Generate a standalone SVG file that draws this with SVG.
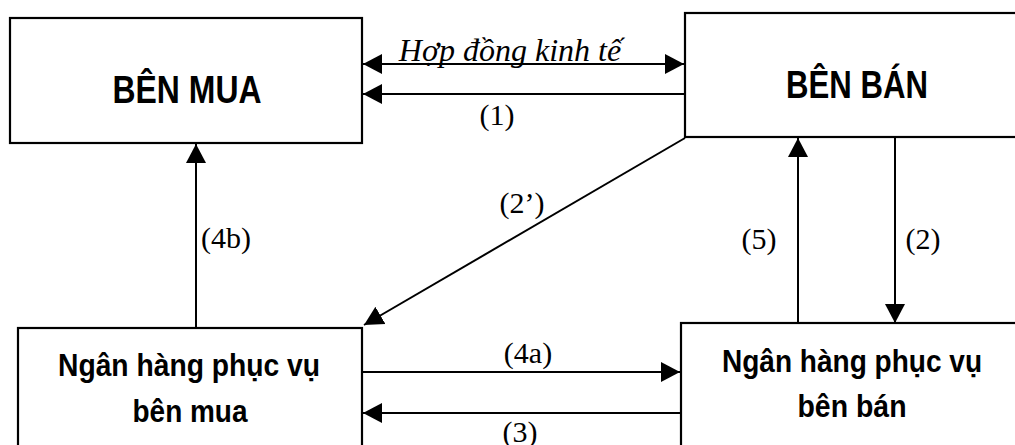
<svg xmlns="http://www.w3.org/2000/svg" width="1015" height="445" viewBox="0 0 1015 445">
  <style>
    .box { fill: #fff; stroke: #000; stroke-width: 2.2; }
    .big { font-family: "Liberation Sans", Arial, sans-serif; font-weight: bold; font-size: 39px; text-anchor: middle; fill: #000; }
    .bank { font-family: "Liberation Sans", Arial, sans-serif; font-weight: bold; font-size: 32px; text-anchor: middle; fill: #000; }
    .lbl { font-family: "Liberation Serif", "Times New Roman", serif; font-size: 30px; text-anchor: middle; fill: #000; }
    .ital { font-family: "Liberation Serif", "Times New Roman", serif; font-size: 32px; font-style: italic; text-anchor: middle; fill: #000; }
    .conn line { stroke: #000; stroke-width: 2; fill: none; }
  </style>
  <defs>
    <marker id="arr" markerUnits="userSpaceOnUse" markerWidth="20" markerHeight="22" viewBox="0 0 20 22" refX="19" refY="11" orient="auto-start-reverse">
      <path d="M0,1 L19,11 L0,21 Z" fill="#000"/>
    </marker>
  </defs>
  <rect width="1015" height="445" fill="#fff"/>

  <g id="ben-mua">
    <rect class="box" x="10" y="18" width="352" height="125"/>
    <text class="big" x="187" y="103" textLength="149" lengthAdjust="spacingAndGlyphs">BÊN MUA</text>
  </g>
  <g id="ben-ban">
    <rect class="box" x="685" y="13" width="340" height="124"/>
    <text class="big" x="857" y="98" textLength="142" lengthAdjust="spacingAndGlyphs">BÊN BÁN</text>
  </g>
  <g id="ngan-hang-mua">
    <rect class="box" x="18" y="328" width="344" height="130"/>
    <text class="bank" x="189" y="376" textLength="262" lengthAdjust="spacingAndGlyphs">Ngân hàng phục vụ</text>
    <text class="bank" x="190" y="422" textLength="115" lengthAdjust="spacingAndGlyphs">bên mua</text>
  </g>
  <g id="ngan-hang-ban">
    <rect class="box" x="681" y="323" width="350" height="135"/>
    <text class="bank" x="852" y="372" textLength="260" lengthAdjust="spacingAndGlyphs">Ngân hàng phục vụ</text>
    <text class="bank" x="852" y="417" textLength="109" lengthAdjust="spacingAndGlyphs">bên bán</text>
  </g>

  <g id="connectors" class="conn">
    <line x1="363" y1="64" x2="684" y2="64" marker-start="url(#arr)" marker-end="url(#arr)"/>
    <line x1="684" y1="94" x2="363" y2="94" marker-end="url(#arr)"/>
    <line x1="685" y1="138" x2="364" y2="325" marker-end="url(#arr)"/>
    <line x1="895" y1="138" x2="895" y2="323" marker-end="url(#arr)"/>
    <line x1="798" y1="323" x2="798" y2="138" marker-end="url(#arr)"/>
    <line x1="196" y1="328" x2="196" y2="144" marker-end="url(#arr)"/>
    <line x1="362" y1="372" x2="680" y2="372" marker-end="url(#arr)"/>
    <line x1="681" y1="413" x2="363" y2="413" marker-end="url(#arr)"/>
  </g>

  <g id="labels">
    <text class="ital" x="510" y="61">Hợp đồng kinh tế</text>
    <text class="lbl" x="497" y="125">(1)</text>
    <text class="lbl" x="522" y="213">(2’)</text>
    <text class="lbl" x="226" y="248">(4b)</text>
    <text class="lbl" x="759" y="249">(5)</text>
    <text class="lbl" x="923" y="249">(2)</text>
    <text class="lbl" x="528" y="363">(4a)</text>
    <text class="lbl" x="520" y="442">(3)</text>
  </g>
</svg>
